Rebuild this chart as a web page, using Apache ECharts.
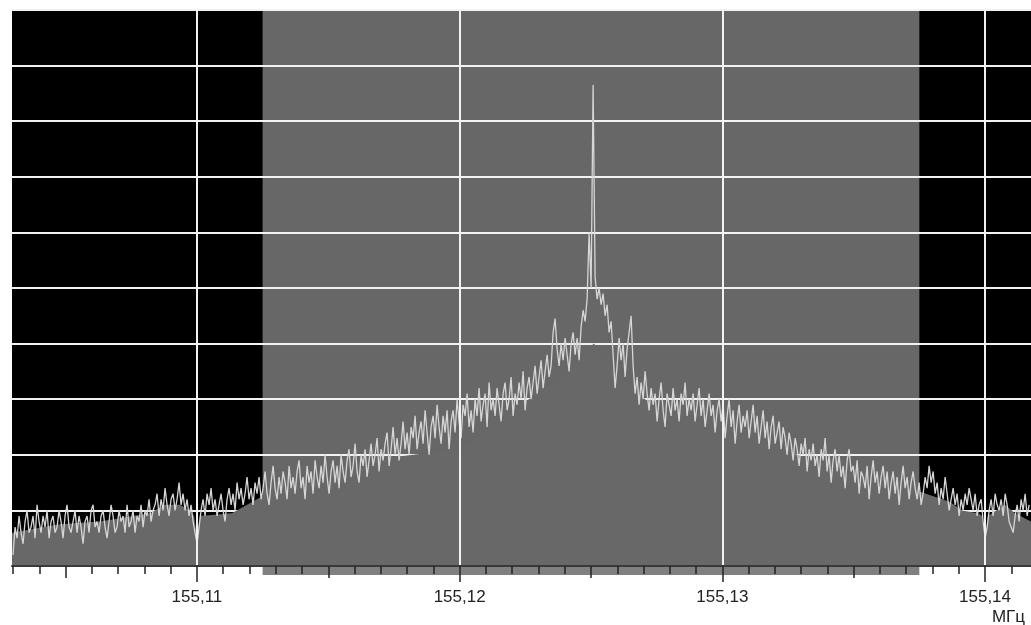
<!DOCTYPE html>
<html><head><meta charset="utf-8">
<script src="https://cdn.jsdelivr.net/npm/echarts@6/dist/echarts.min.js"></script>
<style>html,body{margin:0;padding:0;background:#fff;}#c{width:1031px;height:625px;}</style>
</head><body><div id="c"></div>
<script>
// Spectrum trace: uniformly sampled levels (0..100 = 10 grid divisions)
const freqStart = 155.10300;
const freqStep = 0.00007614;
const traceLevels = [
  2, 7, 5, 9, 6, 4, 8, 10, 6, 7, 9, 5, 11, 8, 6, 9, 7, 10, 5, 8,
  9, 6, 7, 10, 8, 5, 9, 11, 7, 6, 8, 10, 6, 9, 7, 4, 8, 9, 6, 10,
  11, 7, 8, 6, 9, 10, 7, 5, 8, 11, 9, 6, 7, 10, 8, 9, 6, 11, 7, 8,
  10, 6, 9, 8, 11, 7, 10, 9, 12, 8, 10, 11, 13, 9, 12, 10, 14, 11, 9, 12,
  13, 10, 12, 15, 11, 13, 10, 12, 9, 11, 8, 6, 4, 7, 10, 12, 9, 13, 11, 14,
  10, 12, 9, 11, 13, 10, 8, 12, 14, 11, 13, 10, 15, 12, 14, 11, 13, 16, 12, 14,
  11, 15, 13, 16, 12, 14, 17, 13, 11, 15, 18, 14, 12, 16, 13, 17, 15, 12, 18, 14,
  16, 13, 17, 19, 14, 16, 12, 18, 15, 17, 13, 19, 16, 14, 18, 15, 20, 16, 13, 17,
  19, 15, 18, 14, 20, 17, 15, 19, 21, 16, 18, 22, 17, 15, 20, 18, 21, 16, 19, 22,
  18, 20, 23, 17, 21, 19, 22, 24, 18, 21, 25, 20, 23, 19, 22, 26, 21, 24, 20, 25,
  23, 27, 21, 24, 26, 22, 28, 24, 20, 25, 27, 23, 29, 25, 22, 27, 24, 28, 21, 26,
  28, 24, 30, 26, 23, 29, 27, 31, 25, 28, 24, 30, 27, 32, 26, 29, 31, 25, 33, 28,
  30, 27, 32, 29, 26, 31, 33, 28, 30, 34, 27, 31, 29, 33, 30, 35, 28, 32, 34, 30,
  33, 36, 31, 34, 37, 32, 35, 38, 34, 36, 42, 44.5, 39, 36, 40, 37, 41, 38, 35, 40,
  42, 38, 41, 37, 43, 46, 44, 48, 60, 50, 86.5, 52, 48, 50, 47, 49, 45, 47, 42, 44,
  38, 32, 36, 41, 37, 40, 34, 39, 42, 45, 36, 31, 34, 29, 33, 30, 35, 31, 28, 32,
  29, 31, 26, 30, 33, 28, 25, 31, 29, 27, 32, 28, 30, 26, 31, 29, 33, 27, 30, 28,
  31, 26, 29, 32, 27, 30, 25, 28, 31, 27, 29, 24, 28, 30, 26, 29, 23, 27, 30, 25,
  28, 22, 26, 29, 24, 27, 25, 28, 23, 26, 29, 24, 27, 22, 25, 28, 23, 26, 21, 25,
  27, 22, 24, 26, 21, 25, 23, 20, 24, 22, 19, 23, 21, 18, 22, 20, 23, 17, 21, 19,
  22, 18, 20, 16, 21, 19, 23, 17, 20, 15, 19, 21, 17, 20, 16, 18, 14, 19, 21, 17,
  18, 15, 19, 13, 17, 16, 14, 18, 12, 16, 19, 15, 17, 13, 16, 18, 14, 17, 12, 15,
  17, 13, 16, 11, 15, 18, 14, 16, 12, 15, 17, 14, 12, 15, 11, 13, 16, 14, 18, 15,
  17, 13, 15, 11, 14, 12, 16, 13, 10, 12, 14, 11, 13, 9, 12, 10, 13, 11, 14, 12,
  10, 13, 9, 11, 12, 8, 5, 7, 10, 12, 9, 13, 11, 10, 12, 9, 13, 11, 8, 7,
  6, 9, 11, 8, 12, 10, 13, 9, 11
];
// Filled lower envelope of the spectrum
const envFreqs = [155.10296, 155.10478, 155.10631, 155.10821, 155.10878, 155.10935, 155.10973, 155.10989,
  155.11000, 155.11011, 155.11133, 155.11247, 155.11506, 155.11735, 155.12001, 155.12249, 155.12382,
  155.12511, 155.12572, 155.12717, 155.12991, 155.13143, 155.13284, 155.13524, 155.13745, 155.13867,
  155.13912, 155.13973, 155.13989, 155.14000, 155.14011, 155.14076, 155.14114, 155.14175];
const envLevels = [6, 7.5, 8, 9.5, 11, 11, 10, 9,
  5.5, 9, 9.5, 12.5, 15.5, 19.5, 21, 29.5, 34,
  40, 36, 29.5, 27, 23, 20, 16, 13.5, 11.5,
  10, 9.5, 9, 5.5, 9, 11, 9.5, 8];
const maskBand = [155.1125, 155.1375];
const majorTicks = [155.11, 155.12, 155.13, 155.14];
const halfTicks = [155.105, 155.115, 155.125, 155.135];
const minorTicks = [155.103, 155.104, 155.105, 155.106, 155.107, 155.108, 155.109, 155.110,
  155.111, 155.112, 155.113, 155.114, 155.115, 155.116, 155.117, 155.118, 155.119, 155.120,
  155.121, 155.122, 155.123, 155.124, 155.125, 155.126, 155.127, 155.128, 155.129, 155.130,
  155.131, 155.132, 155.133, 155.134, 155.135, 155.136, 155.137, 155.138, 155.139, 155.140, 155.141];
const xMin = 155.10296, xMax = 155.14175;
const unitLabel = 'МГц';

const traceData = traceLevels.map((v, i) => [freqStart + i * freqStep, v]);
const envData = envFreqs.map((f, i) => [f, envLevels[i]]);

const FONT = '"Liberation Sans", Arial, sans-serif';
const chart = echarts.init(document.getElementById('c'), null, {renderer: 'canvas'});
const gridMain = {left: 12, right: 0, top: 10, bottom: 59};
const hiddenY = (gi) => ({gridIndex: gi, type: 'value', min: 0, max: 1, show: false});
chart.setOption({
  animation: false,
  backgroundColor: '#ffffff',
  title: {text: unitLabel, right: 1, top: 604, textStyle: {fontFamily: FONT, fontSize: 17, fontWeight: 'normal', color: '#222'}},
  grid: [
    Object.assign({show: true, backgroundColor: '#000000', borderWidth: 0}, gridMain),
    {left: 12, right: 0, top: 567, height: 8},
    Object.assign({}, gridMain),
    Object.assign({}, gridMain)
  ],
  xAxis: [
    {gridIndex: 0, type: 'value', min: xMin, max: xMax, z: 5,
      axisLine: {show: true, onZero: false, lineStyle: {color: '#3a3a3a', width: 2}},
      axisTick: {show: true, customValues: minorTicks, length: 8, lineStyle: {color: '#222', width: 1.5}},
      axisLabel: {show: false}, splitLine: {show: false}},
    {gridIndex: 1, type: 'value', min: xMin, max: xMax, show: false},
    {gridIndex: 2, type: 'value', min: xMin, max: xMax, z: 5,
      axisLine: {show: false, onZero: false},
      axisTick: {show: true, customValues: halfTicks, length: 12, lineStyle: {color: '#222', width: 1.5}},
      axisLabel: {show: false}, splitLine: {show: false}},
    {gridIndex: 3, type: 'value', min: xMin, max: xMax, z: 5,
      axisLine: {show: false, onZero: false},
      axisTick: {show: true, customValues: majorTicks, length: 16, lineStyle: {color: '#222', width: 1.5}},
      axisLabel: {show: true, customValues: majorTicks, margin: 23, fontFamily: FONT, fontSize: 17, color: '#222',
        formatter: (v) => v.toFixed(2).replace('.', ',')},
      splitLine: {show: false}}
  ],
  yAxis: [
    {gridIndex: 0, type: 'value', min: 0, max: 100, interval: 10, z: 2,
      axisLine: {show: false}, axisTick: {show: false}, axisLabel: {show: false},
      splitLine: {show: true, lineStyle: {color: '#f2f2f2', width: 2}}},
    hiddenY(1), hiddenY(2), hiddenY(3)
  ],
  series: [
    {name: 'mask', type: 'line', xAxisIndex: 0, yAxisIndex: 0, data: [], z: 1, silent: true,
      markArea: {silent: true, itemStyle: {color: '#676767'}, data: [[{xAxis: maskBand[0]}, {xAxis: maskBand[1]}]]}},
    {name: 'vgrid', type: 'line', xAxisIndex: 0, yAxisIndex: 0, data: [], z: 2, silent: true,
      markLine: {silent: true, symbol: ['none', 'none'], label: {show: false},
        lineStyle: {color: '#f2f2f2', width: 2, type: 'solid'},
        data: majorTicks.map(v => ({xAxis: v}))}},
    {name: 'strip', type: 'line', xAxisIndex: 1, yAxisIndex: 1, data: [], z: 1, silent: true,
      markArea: {silent: true, itemStyle: {color: '#808080'}, data: [[{xAxis: maskBand[0]}, {xAxis: maskBand[1]}]]}},
    {name: 'envelope', type: 'line', xAxisIndex: 0, yAxisIndex: 0, data: envData, z: 3, silent: true,
      showSymbol: false, lineStyle: {width: 0}, areaStyle: {color: '#686868', opacity: 1}},
    {name: 'trace', type: 'line', xAxisIndex: 0, yAxisIndex: 0, data: traceData, z: 4, silent: true,
      showSymbol: false, lineStyle: {color: '#d6d6d6', width: 1.3}}
  ]
});
</script></body></html>
